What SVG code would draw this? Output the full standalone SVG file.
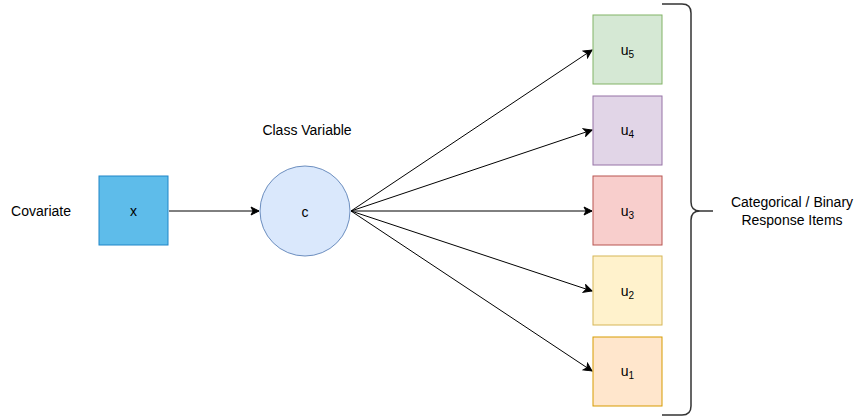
<svg xmlns="http://www.w3.org/2000/svg" width="867" height="420" viewBox="0 0 867 420">
<style>
text{font-family:"Liberation Sans",Arial,sans-serif;font-size:14px;fill:#000;text-anchor:middle;dominant-baseline:central}
.sub{font-size:10px}
.edge{stroke:#000;stroke-width:1;fill:none;marker-end:url(#arr)}
</style>
<defs>
<marker id="arr" viewBox="0 0 10 10" refX="9" refY="5" markerWidth="10" markerHeight="10" markerUnits="userSpaceOnUse" orient="auto">
<path d="M1,1 L9,5 L1,9 L3,5 Z" fill="#000" stroke="#000" stroke-width="1"/>
</marker>
</defs>
<rect width="867" height="420" fill="#fff"/>
<text x="41" y="211">Covariate</text>
<text x="307" y="130">Class Variable</text>
<text x="792" y="202">Categorical / Binary</text>
<text x="792" y="220">Response Items</text>
<g id="connectors">
<path class="edge" d="M169,211 L259,211"/>
<path class="edge" d="M351,211 L592,50"/>
<path class="edge" d="M351,211 L592,130"/>
<path class="edge" d="M351,211 L592,211"/>
<path class="edge" d="M351,211 L592,291"/>
<path class="edge" d="M351,211 L592,371"/>
</g>
<g id="node-x"><rect x="99" y="176" width="69" height="69" fill="#5ebcea" stroke="#1f86c8"/><text x="133.5" y="211">x</text></g>
<g id="node-c"><circle cx="305" cy="211" r="45" fill="#dae8fc" stroke="#6c8ebf"/><text x="305" y="212">c</text></g>
<g id="node-u5"><rect x="593" y="15" width="69" height="69" fill="#d5e8d4" stroke="#82b366"/><text x="627.5" y="50">u<tspan class="sub" dy="4">5</tspan></text></g>
<g id="node-u4"><rect x="593" y="96" width="69" height="69" fill="#e1d5e7" stroke="#9673a6"/><text x="627.5" y="130">u<tspan class="sub" dy="4">4</tspan></text></g>
<g id="node-u3"><rect x="593" y="176" width="69" height="69" fill="#f8cecc" stroke="#b85450"/><text x="627.5" y="211">u<tspan class="sub" dy="4">3</tspan></text></g>
<g id="node-u2"><rect x="593" y="256" width="69" height="69" fill="#fff2cc" stroke="#d6b656"/><text x="627.5" y="291">u<tspan class="sub" dy="4">2</tspan></text></g>
<g id="node-u1"><rect x="593" y="337" width="69" height="69" fill="#ffe6cc" stroke="#d79b00"/><text x="627.5" y="371">u<tspan class="sub" dy="4">1</tspan></text></g>
<g id="brace"><path d="M662,4 L682,4 Q691,4 691,13 L691,202 Q691,211 700,211 L713,211 M700,211 Q691,211 691,220 L691,406 Q691,415 682,415 L662,415" fill="none" stroke="#333" stroke-width="1.5"/></g>
</svg>
